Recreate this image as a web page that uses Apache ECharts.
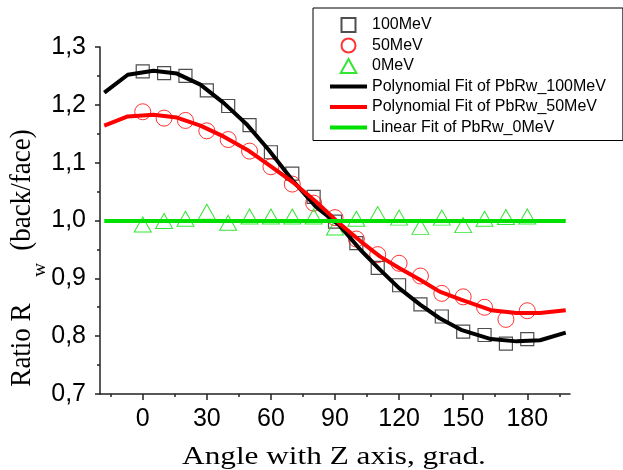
<!DOCTYPE html>
<html><head><meta charset="utf-8">
<script src="https://cdn.jsdelivr.net/npm/echarts@6/dist/echarts.min.js"></script>
<style>html,body{margin:0;padding:0;background:#fff}#c{width:623px;height:470px}</style>
</head><body><div id="c"></div>
<script>
// ---- data ----
const angles = [0,10,20,30,40,50,60,70,80,90,100,110,120,130,140,150,160,170,180];
const r100 = [1.258,1.255,1.250,1.225,1.198,1.165,1.118,1.081,1.041,0.998,0.961,0.918,0.888,0.855,0.834,0.808,0.802,0.787,0.795];
const r50  = [1.188,1.177,1.173,1.155,1.140,1.120,1.093,1.063,1.030,1.005,0.968,0.941,0.926,0.904,0.874,0.868,0.850,0.829,0.844];
const r0   = [0.993,0.999,1.003,1.015,0.996,1.007,1.007,1.007,1.007,0.988,1.003,1.011,1.005,0.989,1.005,0.992,1.003,1.006,1.007];
const fitAngles = [-18,-7,5,16,27,38,49,59,70,81,92,102,111,120,130,139,149,163,175,186,198];
const fit100 = [1.221,1.252,1.259,1.254,1.235,1.203,1.165,1.122,1.070,1.024,0.992,0.949,0.915,0.883,0.854,0.831,0.811,0.795,0.791,0.793,0.806];
const fit50  = [1.164,1.180,1.183,1.178,1.164,1.145,1.122,1.096,1.067,1.033,0.995,0.964,0.938,0.918,0.897,0.877,0.863,0.845,0.840,0.840,0.845];
const linAngles = [-18,198];
const fit0 = [0.999,0.999];
const xMajor = [0,30,60,90,120,150,180];
const xMinor = [-15,15,45,75,105,135,165,195];
const names = ['100MeV','50MeV','0MeV','Polynomial Fit of PbRw_100MeV','Polynomial Fit of PbRw_50MeV','Linear Fit of PbRw_0MeV'];

const pair = (xs, ys) => xs.map((x,i)=>[x, ys[i]]);
const sans = "Arial, 'Liberation Sans', sans-serif";
const serif = "'Times New Roman', 'Liberation Serif', serif";
const lineItem = n => ({name:n, itemStyle:{opacity:0}, lineStyle:{width:4}});

const chart = echarts.init(document.getElementById('c'));
chart.setOption({
  animation:false,
  backgroundColor:'#fff',
  grid:{left:100,right:53,top:47,bottom:76,containLabel:false,outerBoundsMode:'none'},
  legend:{
    orient:'vertical', left:313, top:8,
    padding:[9,17,5,15], itemGap:4.5, itemWidth:37, itemHeight:14,
    symbolKeepAspect:true,
    borderColor:'#000', borderWidth:1,
    textStyle:{fontSize:16,fontFamily:sans,color:'#000'},
    data:[
      {name:names[0], icon:'path://M0,0H10V10H0Z'},
      {name:names[1], icon:'circle'},
      {name:names[2], icon:'path://M5.6,0L11.2,10L0,10Z'},
      lineItem(names[3]), lineItem(names[4]), lineItem(names[5])
    ]
  },
  xAxis:[{
    type:'value', min:-20, max:200,
    axisLine:{show:true,onZero:false,lineStyle:{color:'#222',width:1.5}},
    axisTick:{show:true,customValues:xMajor,length:6,lineStyle:{color:'#222',width:1.5}},
    axisLabel:{customValues:xMajor,fontSize:25,margin:13,color:'#000',fontFamily:sans},
    splitLine:{show:false}
  },{
    type:'value', min:-20, max:200, position:'bottom',
    axisLine:{show:false},
    axisTick:{show:true,customValues:xMinor,length:3,lineStyle:{color:'#222',width:1.5}},
    axisLabel:{show:false}, splitLine:{show:false}
  }],
  yAxis:{
    type:'value', min:0.7, max:1.3, interval:0.1,
    axisLine:{show:true,onZero:false,lineStyle:{color:'#222',width:1.5}},
    axisTick:{show:true,length:5,lineStyle:{color:'#222',width:1.5}},
    minorTick:{show:true,splitNumber:2,length:3,lineStyle:{color:'#222',width:1.5}},
    axisLabel:{fontSize:25,margin:14,color:'#000',fontFamily:sans,
      formatter:v=>v.toFixed(1).replace('.',',')},
    splitLine:{show:false}
  },
  graphic:[
    {type:'text',x:334,y:457,scaleX:1.25,style:{text:'Angle with Z axis, grad.',fontSize:25,fontFamily:serif,fill:'#000',align:'center',verticalAlign:'middle'}},
    {type:'text',x:22,y:345,rotation:Math.PI/2,scaleY:1.1,style:{text:'Ratio R',fontSize:27,fontFamily:serif,fill:'#000',align:'center',verticalAlign:'middle'}},
    {type:'text',x:40,y:270,rotation:Math.PI/2,style:{text:'w',fontSize:19,fontFamily:serif,fill:'#000',align:'center',verticalAlign:'middle'}},
    {type:'text',x:22,y:190,rotation:Math.PI/2,scaleY:1.1,style:{text:'(back/face)',fontSize:27,fontFamily:serif,fill:'#000',align:'center',verticalAlign:'middle'}}
  ],
  series:[
    {name:names[0],type:'scatter',data:pair(angles,r100),symbol:'rect',symbolSize:13,
      itemStyle:{color:'rgba(0,0,0,0)',borderColor:'#222',borderWidth:1.2}},
    {name:names[1],type:'scatter',data:pair(angles,r50),symbol:'circle',symbolSize:16,
      itemStyle:{color:'rgba(0,0,0,0)',borderColor:'#ff0000',borderWidth:1}},
    {name:names[2],type:'scatter',data:pair(angles,r0),symbol:'triangle',symbolSize:[17,15],
      itemStyle:{color:'rgba(0,0,0,0)',borderColor:'#00e000',borderWidth:1}},
    {name:names[3],type:'line',data:pair(fitAngles,fit100),showSymbol:false,symbol:'none',color:'#000',
      lineStyle:{color:'#000',width:4}},
    {name:names[4],type:'line',data:pair(fitAngles,fit50),showSymbol:false,symbol:'none',color:'#ff0000',
      lineStyle:{color:'#ff0000',width:4}},
    {name:names[5],type:'line',data:pair(linAngles,fit0),showSymbol:false,symbol:'none',color:'#00e000',
      lineStyle:{color:'#00e000',width:4}}
  ]
});
</script></body></html>
